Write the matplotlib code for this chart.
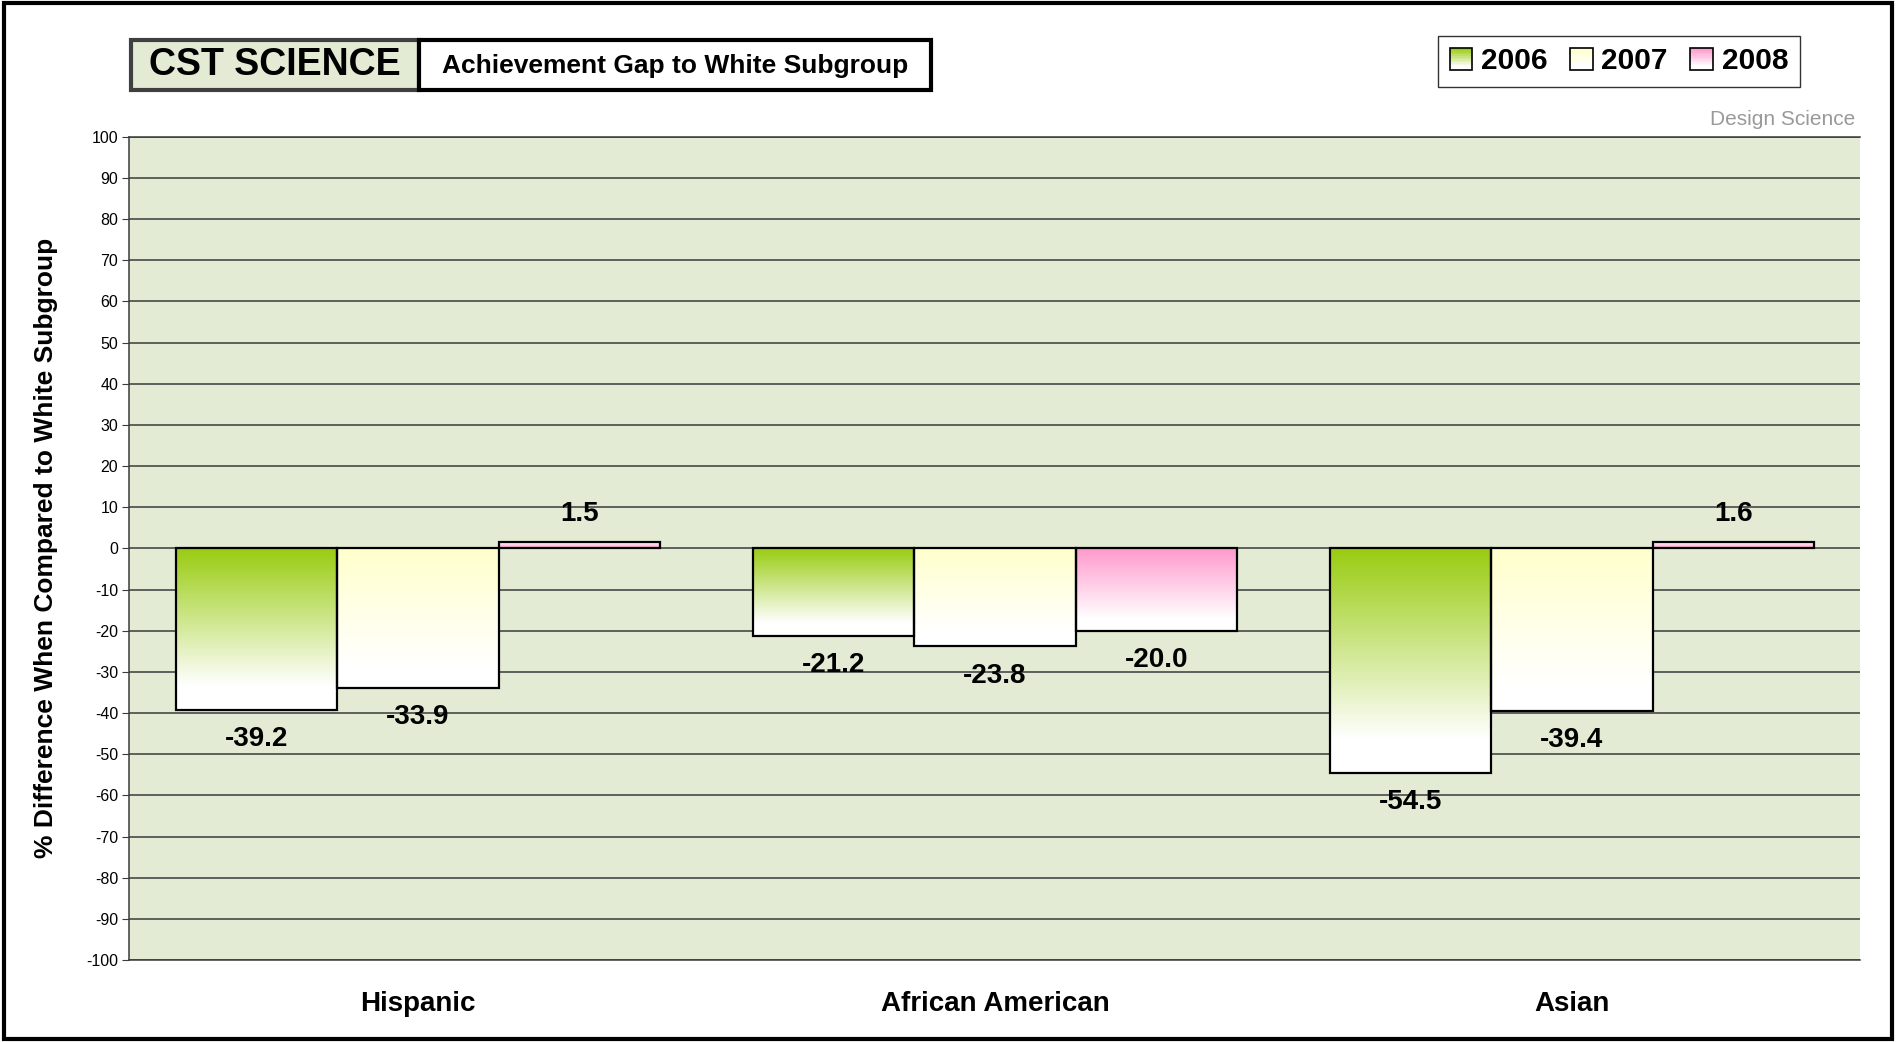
import numpy as np
import matplotlib
matplotlib.use("Agg")
import matplotlib.pyplot as plt
from matplotlib.patches import Rectangle, Patch
from matplotlib.legend_handler import HandlerBase
from matplotlib.colors import to_rgb

plt.rcParams['font.family'] = ['Liberation Sans', 'DejaVu Sans']

# Data
groups = ['Hispanic', 'African American', 'Asian']
years = ['2006', '2007', '2008']
gap_2006 = [-39.2, -21.2, -54.5]
gap_2007 = [-33.9, -23.8, -39.4]
gap_2008 = [1.5, -20.0, 1.6]
series = [gap_2006, gap_2007, gap_2008]
top_colors = ['#99CC11', '#FFFFCC', '#FF99CC']
y_ticks = list(range(-100, 101, 10))

bg = '#E3EBD5'
grid_col = '#3a3a3a'


def blend(c, t):
    # t=0 -> colour, t=1 -> white
    c = np.array(to_rgb(c))
    return c + (1 - c) * t


def gradient_img(c, n=200):
    t = np.linspace(0, 1, n)
    t = np.clip(t / 0.85, 0, 1)
    img = np.array([blend(c, v) for v in t])
    return img.reshape(n, 1, 3)


class GradientHandler(HandlerBase):
    def __init__(self, color):
        super().__init__()
        self.color = color

    def create_artists(self, legend, orig_handle, xdescent, ydescent,
                       width, height, fontsize, trans):
        arts = []
        n = 14
        for i in range(n):
            c = blend(self.color, min(i / (n - 1) / 0.85, 1))
            y0 = -ydescent + height * (1 - (i + 1) / n)
            arts.append(Rectangle((-xdescent, y0), width, height / n,
                                  facecolor=c, edgecolor='none', transform=trans))
        arts.append(Rectangle((-xdescent, -ydescent), width, height,
                              facecolor='none', edgecolor='black', lw=1.2,
                              transform=trans))
        return arts


fig = plt.figure(figsize=(18.98, 10.42), dpi=100)
ax = fig.add_axes([0.0682, 0.0787, 0.912, 0.790])
ax.set_facecolor(bg)

x = np.arange(len(groups))
w = 0.28
for j, (vals, col) in enumerate(zip(series, top_colors)):
    bars = ax.bar(x + (j - 1) * w, vals, w, facecolor='none',
                  edgecolor='black', linewidth=1.6, zorder=4)
    img = gradient_img(col)
    for b, v in zip(bars, vals):
        x0 = b.get_x()
        x1 = x0 + b.get_width()
        # colour at the zero line, fading to white at the bar end
        if v < 0:
            im = ax.imshow(img, extent=[x0, x1, v, 0], aspect='auto', origin='upper',
                           zorder=3, interpolation='bilinear')
        else:
            im = ax.imshow(img, extent=[x0, x1, 0, v], aspect='auto', origin='lower',
                           zorder=3, interpolation='bilinear')
        im.set_clip_path(b)
        off = -21 if v < 0 else 20
        ax.annotate(f'{v:.1f}', (b.get_x() + b.get_width() / 2, v),
                    xytext=(0, off), textcoords='offset points',
                    ha='center', va='center', fontsize=20, fontweight='bold', zorder=5)

ax.set_xlim(-0.5, len(groups) - 0.5)
ax.set_ylim(-100, 100)
ax.set_yticks(y_ticks)
ax.set_yticklabels([str(t) for t in y_ticks], fontsize=11.5)
ax.yaxis.grid(True, color=grid_col, linewidth=1.1, zorder=1)
ax.set_axisbelow(True)
ax.tick_params(axis='y', direction='out', length=5, color=grid_col, pad=3)
ax.set_xticks(x)
ax.set_xticklabels(groups, fontsize=20, fontweight='bold')
ax.tick_params(axis='x', length=0, pad=22)
ax.spines['right'].set_visible(False)
for s in ['left', 'top', 'bottom']:
    ax.spines[s].set_color(grid_col)
    ax.spines[s].set_linewidth(1.1)

fig.text(0.024, 0.4738, '% Difference When Compared to White Subgroup',
         rotation=90, ha='center', va='center', fontsize=19, fontweight='bold')

# "Design Science" tag
fig.text(0.9775, 0.885, 'Design Science', ha='right', va='center',
         fontsize=15, color='#999999')

# title boxes
fig.patches.append(Rectangle((0.069, 0.9136), 0.1518, 0.048, transform=fig.transFigure,
                             facecolor=bg, edgecolor='#404040', lw=3, zorder=2))
fig.patches.append(Rectangle((0.2208, 0.9136), 0.2697, 0.048, transform=fig.transFigure,
                             facecolor='white', edgecolor='black', lw=3, zorder=2))
fig.text(0.1449, 0.9376, 'CST SCIENCE', ha='center', va='center',
         fontsize=27, fontweight='bold', zorder=3)
fig.text(0.3556, 0.9366, 'Achievement Gap to White Subgroup', ha='center', va='center',
         fontsize=19, fontweight='bold', zorder=3)

# legend
handles = [Patch(label=y) for y in years]
hmap = {h: GradientHandler(c) for h, c in zip(handles, top_colors)}
leg = fig.legend(handles=handles, labels=years, handler_map=hmap, ncol=3,
                 loc='center', bbox_to_anchor=(0.853, 0.941),
                 prop={'size': 21.5, 'weight': 'bold'}, frameon=True, fancybox=False,
                 edgecolor='black', handlelength=0.75, handleheight=0.75,
                 handletextpad=0.3, columnspacing=0.75, borderpad=0.4)
leg.get_frame().set_linewidth(1.0)

# outer border
fig.patches.append(Rectangle((0.002, 0.003), 0.995, 0.994, transform=fig.transFigure,
                             fill=False, edgecolor='black', lw=3))

fig.savefig('out.png', dpi=100, facecolor='white')
